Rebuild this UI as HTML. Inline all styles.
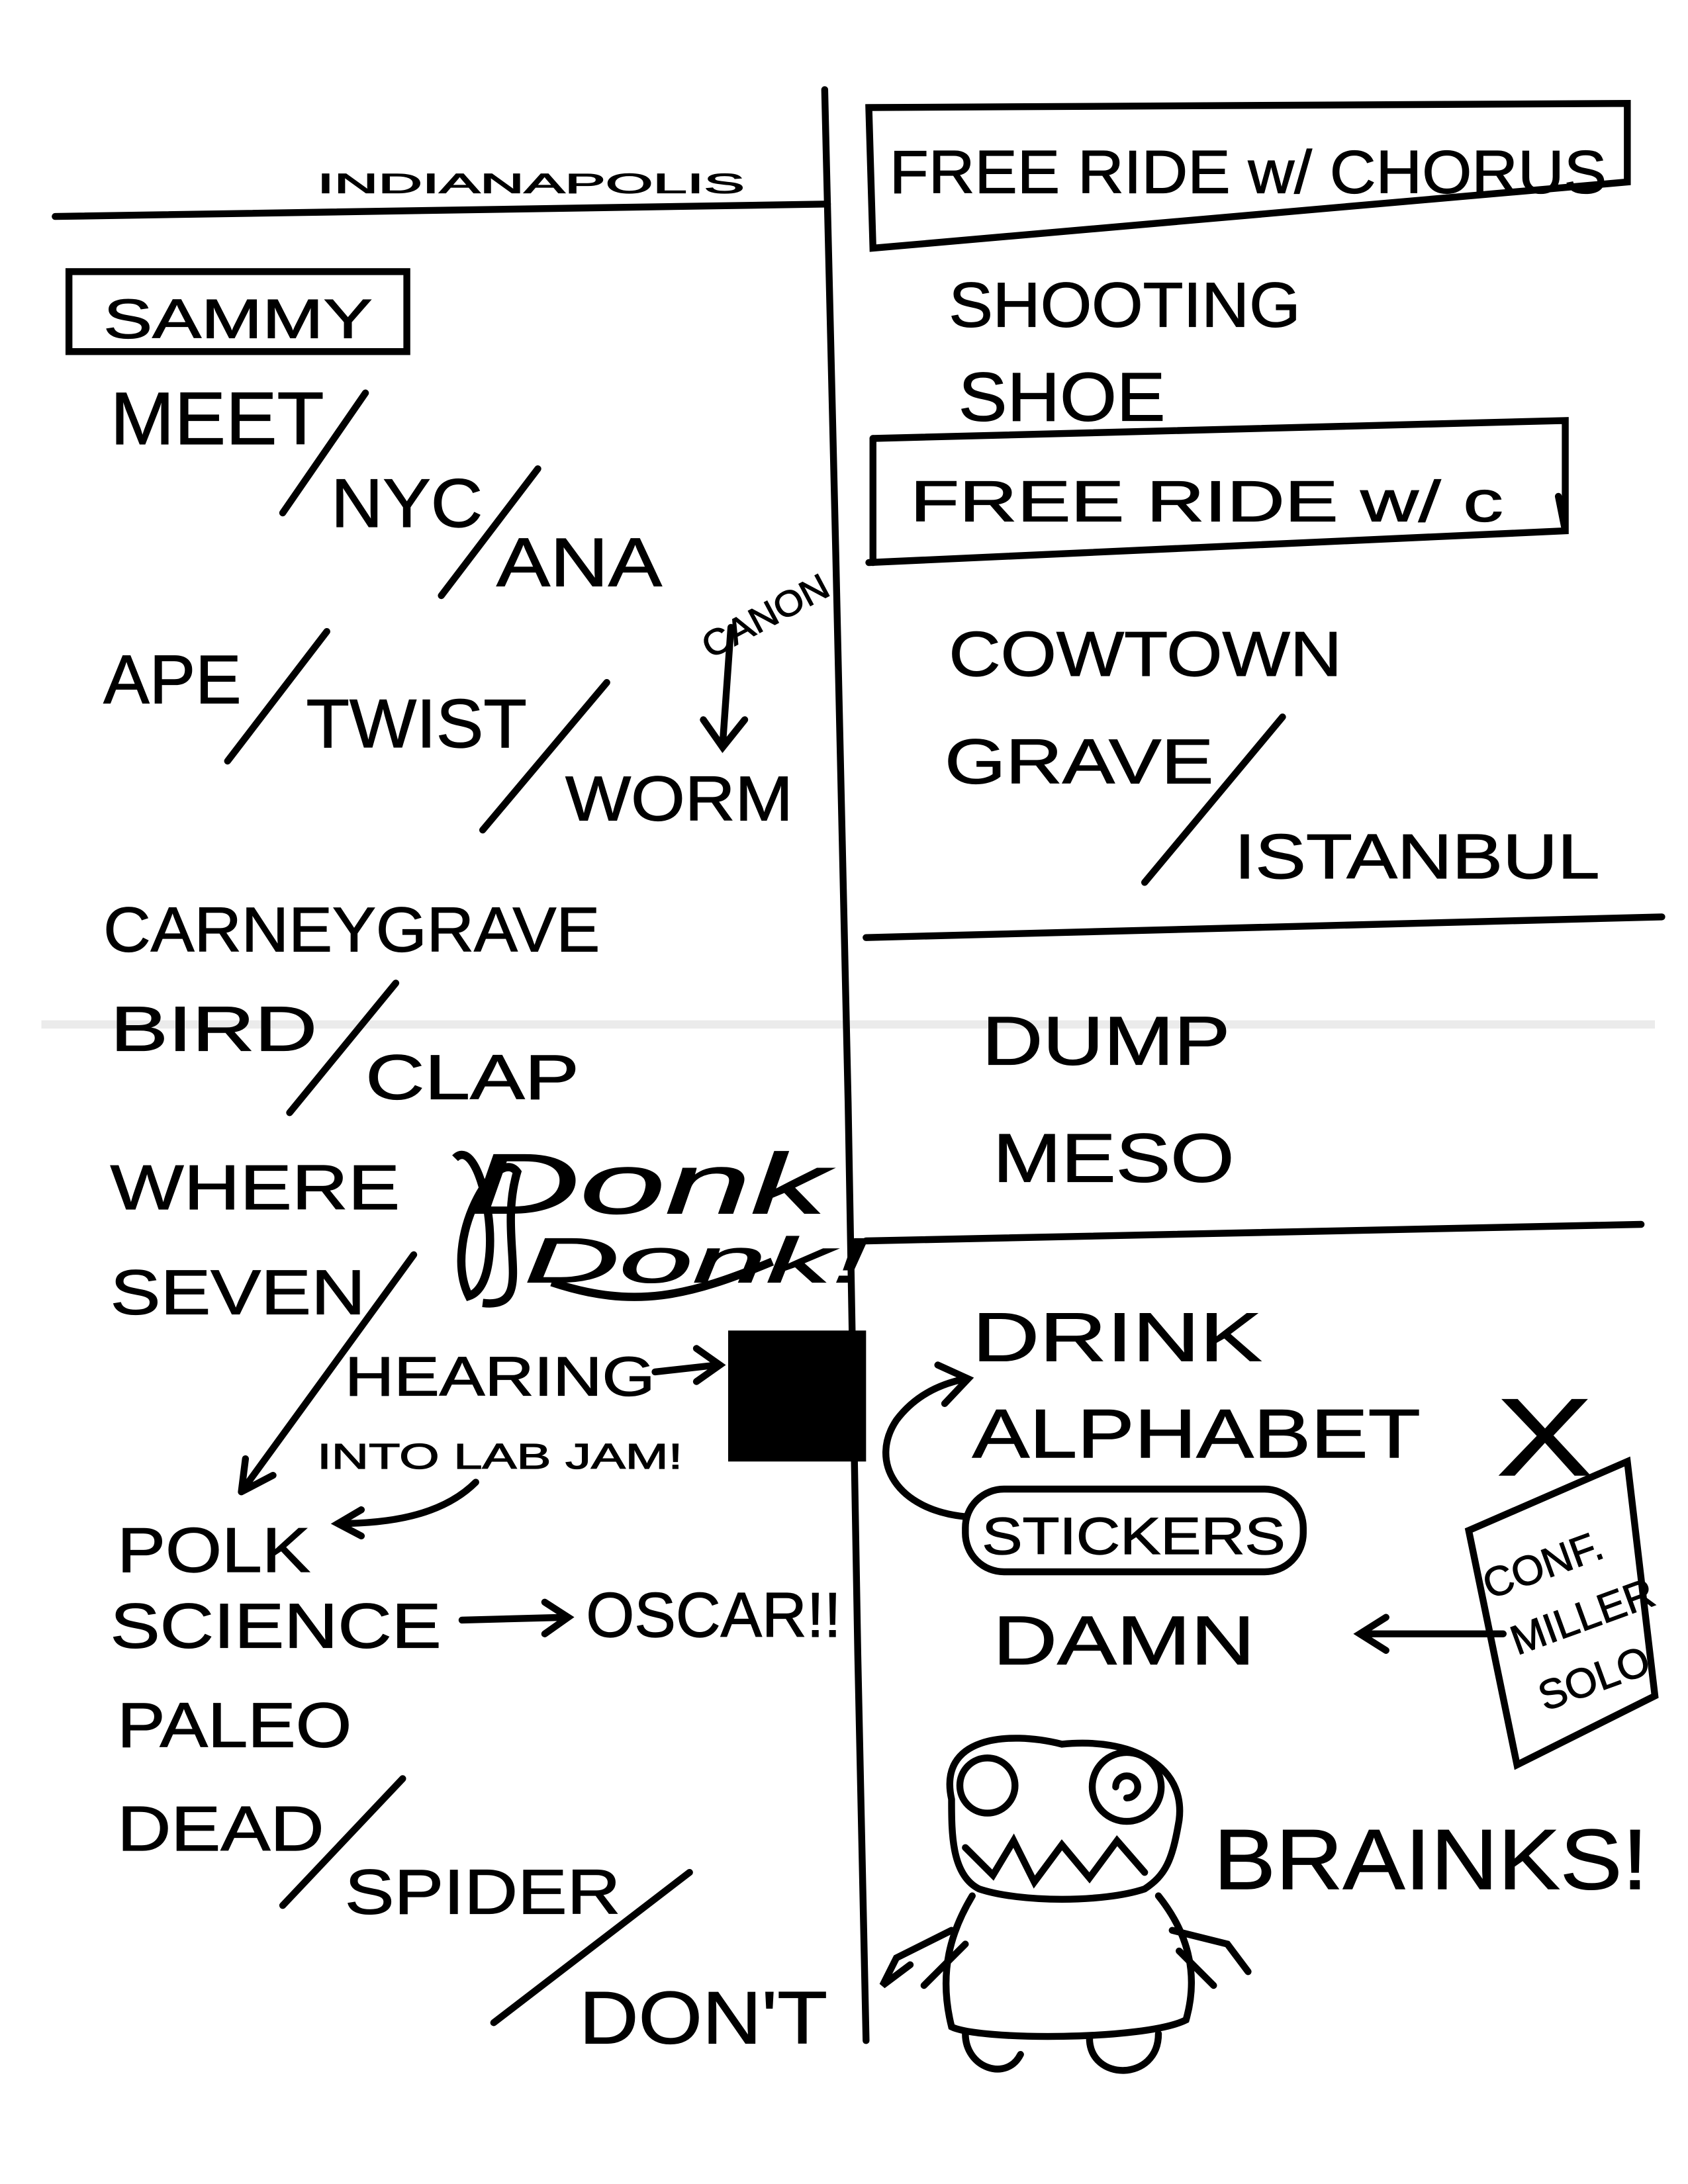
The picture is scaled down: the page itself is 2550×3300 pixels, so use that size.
<!DOCTYPE html>
<html><head><meta charset="utf-8"><style>
html,body{margin:0;padding:0;background:#fff;}
svg{display:block;}
text{font-family:"Liberation Sans",sans-serif;fill:#000;stroke:#000;stroke-width:0.6;}
.l{stroke:#000;stroke-width:5;fill:none;stroke-linecap:round;}
</style></head><body>
<svg width="2550" height="3300" viewBox="0 0 1224 1584" xmlns="http://www.w3.org/2000/svg">
<rect width="1224" height="1584" fill="#fff"/>
<rect x="30" y="740" width="1170" height="6" fill="#ccc" opacity="0.4"/>
<path class="l" d="M598,65 L606,400 L615,800 L622,1200 L628,1480"/>
<path class="l" d="M40,157 L600,148"/>
<text x="230" y="140" font-size="20" textLength="310" lengthAdjust="spacingAndGlyphs" fill="#666" stroke="#666">INDIANAPOLIS</text>
<rect x="50" y="197" width="245" height="58" class="l"/>
<text x="75" y="245" font-size="40" textLength="195" lengthAdjust="spacingAndGlyphs">SAMMY</text>
<text x="80" y="322" font-size="54" textLength="155" lengthAdjust="spacingAndGlyphs">MEET</text>
<path class="l" d="M205,372 L265,285"/>
<text x="240" y="382" font-size="50" textLength="110" lengthAdjust="spacingAndGlyphs">NYC</text>
<path class="l" d="M320,432 L390,340"/>
<text x="360" y="425" font-size="50" textLength="120" lengthAdjust="spacingAndGlyphs">ANA</text>
<text x="75" y="510" font-size="50" textLength="100" lengthAdjust="spacingAndGlyphs">APE</text>
<path class="l" d="M165,552 L237,458"/>
<text x="222" y="542" font-size="50" textLength="160" lengthAdjust="spacingAndGlyphs">TWIST</text>
<path class="l" d="M350,602 L440,495"/>
<text x="410" y="595" font-size="46" textLength="165" lengthAdjust="spacingAndGlyphs">WORM</text>
<text x="0" y="0" font-size="26" textLength="100" lengthAdjust="spacingAndGlyphs" transform="translate(515,478) rotate(-28)">CANON</text>
<path class="l" d="M530,455 L524,540 M510,522 L524,542 L540,522"/>
<text x="75" y="690" font-size="46" textLength="360" lengthAdjust="spacingAndGlyphs">CARNEYGRAVE</text>
<text x="80" y="762" font-size="46" textLength="150" lengthAdjust="spacingAndGlyphs">BIRD</text>
<path class="l" d="M210,807 L287,713"/>
<text x="265" y="797" font-size="46" textLength="155" lengthAdjust="spacingAndGlyphs">CLAP</text>
<text x="80" y="877" font-size="46" textLength="210" lengthAdjust="spacingAndGlyphs">WHERE</text>
<text x="80" y="953" font-size="46" textLength="185" lengthAdjust="spacingAndGlyphs">SEVEN</text>
<text x="340" y="880" font-size="62" textLength="260" lengthAdjust="spacingAndGlyphs" font-style="italic">Donk</text>
<text x="380" y="930" font-size="46" textLength="250" lengthAdjust="spacingAndGlyphs" font-style="italic">Donk!</text>
<path d="M330,840 C350,820 370,930 340,940 C320,900 360,830 375,850 C360,900 390,950 350,945 M400,930 C460,950 500,940 560,915" stroke="#000" stroke-width="6" fill="none"/>
<path class="l" d="M300,910 L175,1082 M175,1082 L178,1058 M175,1082 L198,1070"/>
<text x="250" y="1012" font-size="40" textLength="225" lengthAdjust="spacingAndGlyphs">HEARING</text>
<path class="l" d="M475,995 L520,990 M505,978 L522,990 L505,1002"/>
<rect x="528" y="965" width="100" height="95" fill="#000"/>
<text x="230" y="1065" font-size="26" textLength="265" lengthAdjust="spacingAndGlyphs">INTO LAB JAM!</text>
<path class="l" d="M345,1075 C320,1100 280,1105 245,1105 M262,1095 L245,1105 L262,1114"/>
<text x="85" y="1140" font-size="46" textLength="140" lengthAdjust="spacingAndGlyphs">POLK</text>
<text x="80" y="1195" font-size="46" textLength="240" lengthAdjust="spacingAndGlyphs">SCIENCE</text>
<path class="l" d="M335,1175 L410,1173 M395,1162 L412,1173 L395,1185"/>
<text x="425" y="1187" font-size="46" textLength="185" lengthAdjust="spacingAndGlyphs">OSCAR!!</text>
<text x="85" y="1267" font-size="46" textLength="170" lengthAdjust="spacingAndGlyphs">PALEO</text>
<text x="85" y="1342" font-size="46" textLength="150" lengthAdjust="spacingAndGlyphs">DEAD</text>
<path class="l" d="M205,1382 L292,1290"/>
<text x="250" y="1388" font-size="46" textLength="200" lengthAdjust="spacingAndGlyphs">SPIDER</text>
<path class="l" d="M358,1467 L500,1358"/>
<text x="420" y="1482" font-size="54" textLength="180" lengthAdjust="spacingAndGlyphs">DON'T</text>
<path class="l" d="M630,78 L1180,75 L1180,132 L633,180 Z"/>
<text x="645" y="140" font-size="44" textLength="520" lengthAdjust="spacingAndGlyphs">FREE RIDE w/ CHORUS</text>
<text x="688" y="237" font-size="46" textLength="255" lengthAdjust="spacingAndGlyphs">SHOOTING</text>
<text x="695" y="305" font-size="50" textLength="150" lengthAdjust="spacingAndGlyphs">SHOE</text>
<path class="l" d="M633,318 L1135,305 L1135,385 L630,408 M1135,385 L1130,360"/>
<path class="l" d="M633,318 L633,408"/>
<text x="660" y="378" font-size="42" textLength="430" lengthAdjust="spacingAndGlyphs">FREE RIDE w/ c</text>
<text x="688" y="490" font-size="46" textLength="285" lengthAdjust="spacingAndGlyphs">COWTOWN</text>
<text x="685" y="568" font-size="46" textLength="195" lengthAdjust="spacingAndGlyphs">GRAVE</text>
<path class="l" d="M830,640 L930,520"/>
<text x="895" y="637" font-size="46" textLength="265" lengthAdjust="spacingAndGlyphs">ISTANBUL</text>
<path class="l" d="M628,680 L1205,665"/>
<text x="712" y="772" font-size="50" textLength="180" lengthAdjust="spacingAndGlyphs">DUMP</text>
<text x="720" y="857" font-size="50" textLength="175" lengthAdjust="spacingAndGlyphs">MESO</text>
<path class="l" d="M628,900 L1190,888"/>
<text x="705" y="987" font-size="50" textLength="210" lengthAdjust="spacingAndGlyphs">DRINK</text>
<text x="705" y="1057" font-size="50" textLength="325" lengthAdjust="spacingAndGlyphs">ALPHABET</text>
<rect x="700" y="1080" width="245" height="60" rx="28" class="l"/>
<text x="712" y="1127" font-size="38" textLength="220" lengthAdjust="spacingAndGlyphs">STICKERS</text>
<path class="l" d="M700,1100 C650,1095 630,1060 650,1030 C665,1010 685,1003 700,1000 M680,990 L702,1000 L685,1018"/>
<text x="720" y="1207" font-size="50" textLength="190" lengthAdjust="spacingAndGlyphs">DAMN</text>
<text x="1085" y="1070" font-size="80" stroke-width="6" textLength="70" lengthAdjust="spacingAndGlyphs">X</text>
<path class="l" d="M1065,1110 L1180,1060 L1200,1230 L1100,1280 Z"/>
<g transform="translate(1080,1160) rotate(-20)">
<text x="0" y="0" font-size="30">CONF.</text>
<text x="5" y="45" font-size="30">MILLER</text>
<text x="10" y="90" font-size="30">SOLO</text>
</g>
<path class="l" d="M1090,1185 L988,1185 M1005,1173 L986,1185 L1005,1197"/>
<g class="l" fill="none">
<path d="M690,1305 C680,1260 730,1255 770,1265 C820,1260 860,1280 855,1320 C850,1350 845,1360 830,1370 C800,1380 740,1380 710,1370 C690,1360 690,1330 690,1305"/>
<circle cx="716" cy="1295" r="20"/>
<circle cx="817" cy="1296" r="25"/><path d="M817,1296 m-8,0 a8,8 0 1,1 8,8"/>
<path d="M700,1340 L720,1360 L735,1335 L750,1365 L770,1338 L790,1362 L810,1335 L830,1358"/>
<path d="M705,1375 C690,1400 680,1430 690,1470 C710,1480 830,1480 860,1465 C870,1430 860,1400 840,1375"/>
<path d="M690,1400 L650,1420 L640,1440 L660,1425 M700,1410 L670,1440"/>
<path d="M850,1400 L890,1410 L905,1430 M855,1415 L880,1440"/>
<path d="M700,1475 C700,1500 730,1510 740,1490 M790,1478 C790,1510 840,1510 840,1475"/>
</g>
<text x="880" y="1370" font-size="62" textLength="315" lengthAdjust="spacingAndGlyphs">BRAINKS!</text>
</svg>
</body></html>
